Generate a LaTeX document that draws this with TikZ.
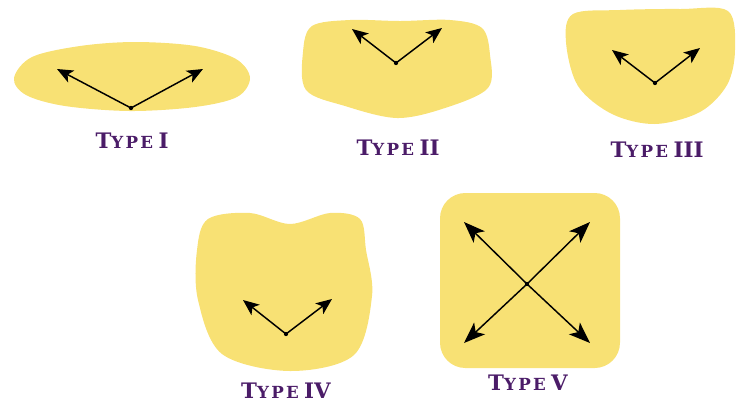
\documentclass[tikz,border=0pt]{standalone}
\usepackage{fontspec}
\setmainfont{DejaVu Serif}
\newfontfamily\lblfont{DejaVu Serif}
\newfontfamily\lblwide[LetterSpace=14]{DejaVu Serif}
\usetikzlibrary{arrows.meta}
\definecolor{blobfill}{HTML}{F8E174}
\definecolor{typelabel}{HTML}{4B1C68}
% fake small caps: big T, small YPE, big numeral
\newcommand{\typename}[1]{{\fontsize{16}{17}\selectfont T}{\lblwide\bfseries\fontsize{12.5}{14}\selectfont YPE}\hspace{4pt}{\fontsize{16}{17}\selectfont #1}}

\tikzset{
  blob/.style={fill=blobfill, draw=none},
  vec/.style={-{Stealth[length=12pt,width=10pt,inset=3pt]}, line width=1.1pt},
  bigvec/.style={-{Stealth[length=16pt,width=12pt,inset=4pt]}, line width=1.1pt},
  lbl/.style={font=\lblfont\bfseries, text=typelabel, inner sep=0pt, anchor=base},
}

\begin{document}
\begin{tikzpicture}[x=0.75pt, y=-0.75pt]
  \useasboundingbox (0,0) rectangle (736,405);

  %% Blobs
  \fill[blob] plot[smooth cycle, tension=0.55] coordinates {(14,78) (32,57) (80,46) (135,42) (195,46) (236,59) (250,78) (237,97) (195,107) (130,111) (65,106) (26,95)};
  \fill[blob] plot[smooth cycle, tension=0.55] coordinates {(303,52) (312,26) (350,20) (400,21) (450,20) (482,28) (490,55) (488,88) (445,108) (397,118) (345,106) (306,90)};
  \fill[blob] plot[smooth cycle, tension=0.55] coordinates {(566,42) (573,14) (620,10) (680,9) (728,11) (735,50) (727,85) (700,112) (655,124) (612,114) (578,86)};
  \fill[blob] plot[smooth cycle, tension=0.55] coordinates {(197,250) (208,219) (250,213) (290,224) (330,213) (360,219) (366,250) (372,296) (354,355) (290,371) (222,354) (198,300)};
  \fill[blob, rounded corners=19pt] (440,193) rectangle (620,368);

  %% Origins and arrow tips
  \coordinate (o1) at (131,108); \coordinate (a1) at (57,69);   \coordinate (b1) at (203,69);
  \coordinate (o2) at (396,63);  \coordinate (a2) at (352,29);  \coordinate (b2) at (442,28);
  \coordinate (o3) at (655,83);  \coordinate (a3) at (612,50);  \coordinate (b3) at (700,48);
  \coordinate (o4) at (286,334); \coordinate (a4) at (243,300); \coordinate (b4) at (332,299);
  \coordinate (o5) at (527,284);
  \coordinate (a5) at (464,222); \coordinate (b5) at (590,222);
  \coordinate (c5) at (464,343); \coordinate (d5) at (590,343);

  \foreach \i in {1,...,4}{
    \draw[vec] (o\i) -- (a\i);
    \draw[vec] (o\i) -- (b\i);
  }
  \foreach \t in {a5,b5,c5,d5}
    \draw[bigvec] (o5) -- (\t);
  \foreach \i in {1,...,5}
    \fill (o\i) circle[radius=1.6pt];

  %% Labels
  \node[lbl] (t1) at (132,148) {\typename{I}};
  \node[lbl] (t2) at (398,155) {\typename{II}};
  \node[lbl] (t3) at (657,157) {\typename{III}};
  \node[lbl] (t4) at (286,398) {\typename{IV}};
  \node[lbl] (t5) at (528,390) {\typename{V}};
\end{tikzpicture}
\end{document}
